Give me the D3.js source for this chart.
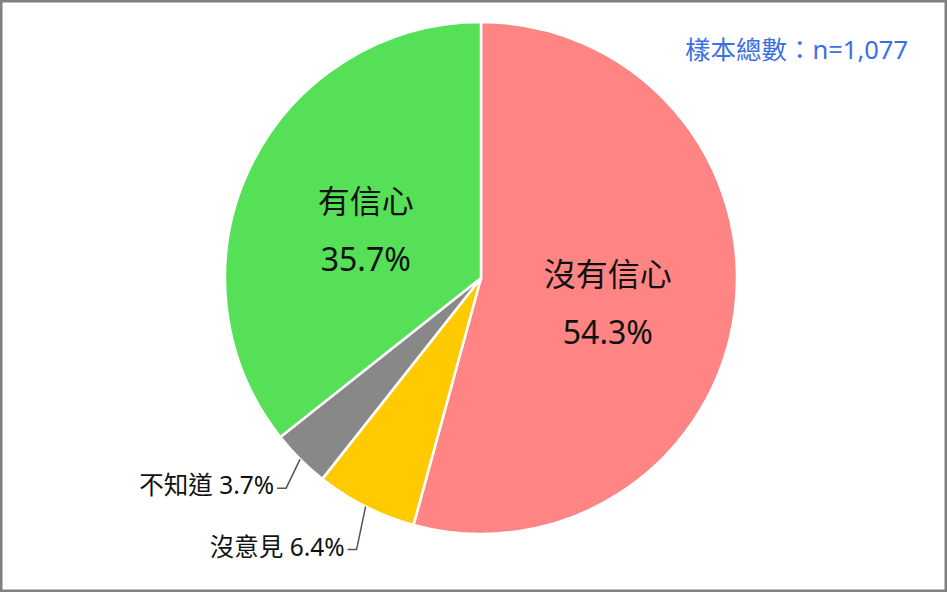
<!DOCTYPE html>
<html>
<head>
<meta charset="utf-8">
<script src="https://cdn.jsdelivr.net/npm/d3@7"></script>
<style>
  html, body { margin: 0; padding: 0; background: #fff; }
  #chart { width: 947px; height: 592px; }
  text { font-family: "Noto Sans", "Noto Sans CJK TC", sans-serif; }
</style>
</head>
<body>
<div id="chart"></div>
<script>
// data (clockwise from 12 o'clock)
const categories = ["沒有信心", "沒意見", "不知道", "有信心"];
const shares     = [54.3, 6.4, 3.7, 35.7];
const sliceColors = ["#ff8585", "#ffca00", "#888888", "#56e058"];
const sampleNote = "樣本總數：n=1,077";

// which slices get the big label inside, which get a leader line outside
const insideLabels = ["沒有信心", "有信心"];

const W = 947, H = 592;
const cx = 481, cy = 278, r = 256;

const svg = d3.select("#chart").append("svg")
    .attr("width", W).attr("height", H);

// outer frame
svg.append("rect")
    .attr("x", 1).attr("y", 1)
    .attr("width", W - 2).attr("height", H - 2)
    .attr("fill", "#fff")
    .attr("stroke", "#808080")
    .attr("stroke-width", 3);

const rows = categories.map((c, i) => ({ name: c, value: shares[i], color: sliceColors[i] }));

const pie = d3.pie().value(d => d.value).sort(null);
const arcs = pie(rows);
const arc = d3.arc().innerRadius(0).outerRadius(r);
const edgeArc = d3.arc().innerRadius(r).outerRadius(r);

const g = svg.append("g").attr("transform", `translate(${cx},${cy})`);

g.selectAll("path.slice")
    .data(arcs).enter()
    .append("path")
        .attr("class", "slice")
        .attr("d", arc)
        .attr("fill", d => d.data.color)
        .attr("stroke", "#fff")
        .attr("stroke-width", 2.5)
        .attr("stroke-linejoin", "round");

// big labels inside the two large slices
const inside = g.selectAll("g.inLabel")
    .data(arcs.filter(d => insideLabels.includes(d.data.name))).enter()
    .append("g")
        .attr("class", "inLabel")
        .attr("transform", d => "translate(" + arc.centroid(d) + ")");

inside.append("text")
    .attr("text-anchor", "middle")
    .attr("y", -9)
    .attr("font-size", "32px")
    .attr("fill", "#111")
    .text(d => d.data.name);

inside.append("text")
    .attr("text-anchor", "middle")
    .attr("y", 49)
    .attr("font-size", "32px")
    .attr("fill", "#111")
    .text(d => d.data.value.toFixed(1) + "%");

// small slices: leader line from the rim, elbow, short horizontal run, text
const leaderDrop = { "不知道": [-14, 29], "沒意見": [-9, 43] };
const outside = arcs.filter(d => !insideLabels.includes(d.data.name));

outside.forEach(d => {
    const p0 = edgeArc.centroid(d);
    const off = leaderDrop[d.data.name];
    const p1 = [p0[0] + off[0], p0[1] + off[1]];
    const p2 = [p1[0] - 9, p1[1]];
    g.append("polyline")
        .attr("points", [p0, p1, p2].map(p => p.join(",")).join(" "))
        .attr("fill", "none")
        .attr("stroke", "#555")
        .attr("stroke-width", 1.5);
    g.append("text")
        .attr("x", p2[0] - 3)
        .attr("y", p2[1] + 6)
        .attr("text-anchor", "end")
        .attr("font-size", "24.5px")
        .attr("fill", "#111")
        .text(d.data.name + " " + d.data.value.toFixed(1) + "%");
});

// sample size note
svg.append("text")
    .attr("x", 908).attr("y", 59)
    .attr("text-anchor", "end")
    .attr("font-size", "25.5px")
    .attr("fill", "#3c6fe4")
    .text(sampleNote);
</script>
</body>
</html>
